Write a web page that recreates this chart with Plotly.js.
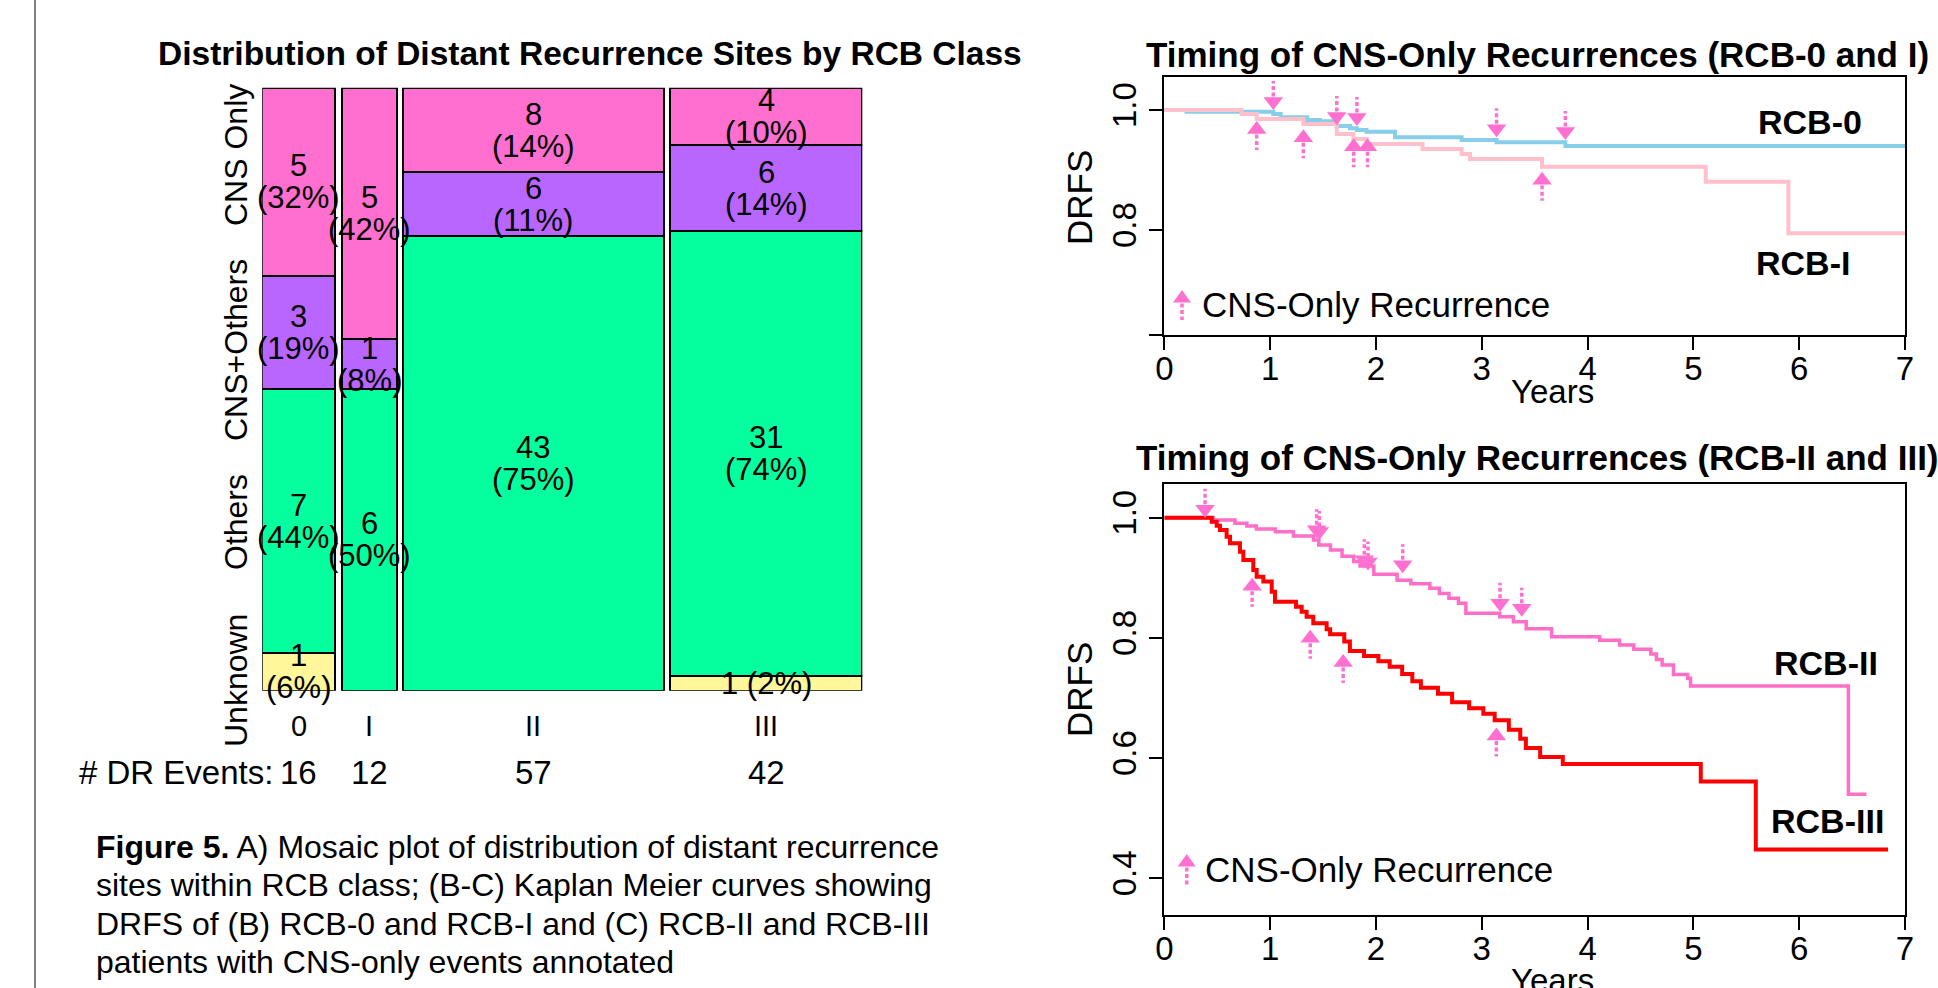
<!DOCTYPE html>
<html><head><meta charset="utf-8">
<script src="https://cdn.plot.ly/plotly-3.0.1.min.js"></script>
<style>html,body{margin:0;padding:0;background:#fff;overflow:hidden}#chart{width:1938px;height:988px}</style>
</head><body><div id="chart"></div><script>
// ---------------- DATA ----------------
const rcbClasses = ['0', 'I', 'II', 'III'];
const siteCategories = ['Unknown', 'Others', 'CNS+Others', 'CNS Only'];
const countUnknown   = [1, 0, 0, 1];
const countOthers    = [7, 6, 43, 31];
const countCnsOthers = [3, 1, 6, 6];
const countCnsOnly   = [5, 5, 8, 4];
const pctUnknown   = [6, 0, 0, 2];
const pctOthers    = [44, 50, 75, 74];
const pctCnsOthers = [19, 8, 11, 14];
const pctCnsOnly   = [32, 42, 14, 10];

// Kaplan-Meier step curves (years, DRFS)
const rcb0Time = [0, 0.21, 1.03, 1.10, 1.35, 1.47, 1.63, 1.755, 1.82, 1.91, 2.18, 2.81, 3.14, 3.79, 7.0];
const rcb0Surv = [1, 0.997, 0.9933, 0.9878, 0.9833, 0.9811, 0.9733, 0.9694, 0.9667, 0.9639, 0.9544, 0.95, 0.9461, 0.94, 0.94];
const rcb1Time = [0, 0.73, 0.873, 1.314, 1.63, 1.787, 1.913, 2.44, 2.81, 2.89, 3.57, 5.117, 5.898, 7.0];
const rcb1Surv = [1, 0.9933, 0.985, 0.9767, 0.96, 0.9517, 0.9433, 0.935, 0.9267, 0.9183, 0.9056, 0.8806, 0.7944, 0.7944];
const rcb2Time = [0, 0.463, 0.668, 0.78, 0.87, 1.05, 1.22, 1.41, 1.46, 1.57, 1.68, 1.79, 1.85, 1.98, 2.2, 2.33, 2.51, 2.6, 2.69, 2.78, 2.85, 3.17, 3.3, 3.42, 3.66, 4.115, 4.303, 4.437, 4.598, 4.651, 4.705, 4.812, 4.946, 4.973, 6.465, 6.636];
const rcb2Surv = [1, 0.996, 0.9907, 0.986, 0.981, 0.9767, 0.9695, 0.963, 0.9545, 0.946, 0.936, 0.927, 0.9197, 0.906, 0.896, 0.89, 0.8825, 0.874, 0.866, 0.8576, 0.841, 0.835, 0.827, 0.815, 0.802, 0.796, 0.788, 0.781, 0.773, 0.764, 0.755, 0.739, 0.733, 0.72, 0.54, 0.54];
const rcb3Time = [0, 0.448, 0.495, 0.526, 0.589, 0.621, 0.715, 0.747, 0.841, 0.873, 0.936, 1.015, 1.046, 1.245, 1.298, 1.345, 1.408, 1.534, 1.567, 1.701, 1.754, 1.888, 2.023, 2.13, 2.248, 2.344, 2.425, 2.586, 2.72, 2.881, 3.015, 3.122, 3.256, 3.364, 3.417, 3.552, 3.766, 5.07, 5.59, 6.84];
const rcb3Surv = [1, 0.9934, 0.9867, 0.9795, 0.9684, 0.9573, 0.9435, 0.9296, 0.913, 0.9019, 0.8936, 0.8769, 0.8603, 0.852, 0.8436, 0.8353, 0.8242, 0.8142, 0.806, 0.794, 0.778, 0.77, 0.761, 0.752, 0.74, 0.728, 0.717, 0.707, 0.693, 0.683, 0.674, 0.663, 0.647, 0.632, 0.617, 0.602, 0.59, 0.561, 0.448, 0.448];

// CNS-only recurrence events (time, DRFS at arrow tip)
const rcb0CnsTime = [1.03, 1.63, 1.82, 3.14, 3.79];
const rcb0CnsSurv = [1.0, 0.975, 0.9733, 0.9544, 0.95];
const rcb1CnsTime = [0.873, 1.314, 1.79, 1.92, 3.57];
const rcb1CnsSurv = [0.9817, 0.9678, 0.9528, 0.9528, 0.897];
const rcb2CnsTime = [0.385, 1.44, 1.465, 1.89, 1.925, 2.253, 3.173, 3.378];
const rcb2CnsSurv = [1.0, 0.9657, 0.963, 0.9158, 0.912, 0.9075, 0.8436, 0.8353];
const rcb3CnsTime = [0.83, 1.379, 1.69, 3.138];
const rcb3CnsSurv = [0.90, 0.8135, 0.773, 0.651];

const kmXTicks = [0, 1, 2, 3, 4, 5, 6, 7];

// ---------------- LAYOUT HELPERS ----------------
const W = 1938, H = 988;
const FONT = 'Liberation Sans, Arial, Helvetica, sans-serif';
const fx = p => p / W;
const fy = p => 1 - p / H;
const MOS = {l: 262.3, r: 862.3, t: 87.7, b: 690.7};
const KM1 = {l: 1164.3, r: 1905, t: 77, b: 335, range: [0.625, 1.055]};
const KM2 = {l: 1164.3, r: 1905, t: 484, b: 915, range: [0.339, 1.056]};
const tileColors = ['#FFF799', '#05FF9F', '#B866FF', '#FF6FCF'];
const arrowColor = '#FF70D0';

// ---------------- MOSAIC ----------------
const catCounts = [countUnknown, countOthers, countCnsOthers, countCnsOnly];
const catPcts = [pctUnknown, pctOthers, pctCnsOthers, pctCnsOnly];
const totals = rcbClasses.map((_, i) => catCounts.reduce((s, a) => s + a[i], 0));
const GAP = 1.4;
const lefts = []; let acc = 0;
totals.forEach(t => { lefts.push(acc); acc += t + GAP; });
const spanX = acc - GAP;
const centers = lefts.map((l, i) => l + totals[i] / 2);

const traces = [];
catCounts.forEach((arr, k) => {
  traces.push({
    type: 'bar', xaxis: 'x', yaxis: 'y',
    x: centers, width: totals, y: arr.map((v, i) => v / totals[i]),
    name: siteCategories[k],
    marker: {color: tileColors[k], line: {color: '#000', width: 2}},
    hoverinfo: 'skip', showlegend: false
  });
});

const annotations = [];
const tf = (size, bold) => ({family: FONT, size: size, color: '#000', weight: bold ? 'bold' : 'normal'});
rcbClasses.forEach((cls, i) => {
  let bottom = 0;
  catCounts.forEach((arr, k) => {
    const frac = arr[i] / totals[i];
    const mid = bottom + frac / 2;
    if (arr[i] > 0) {
      if (frac < 0.04) {
        annotations.push({xref: 'x', yref: 'y', x: centers[i], y: mid, text: arr[i] + ' (' + catPcts[k][i] + '%)', showarrow: false, font: tf(31)});
      } else {
        annotations.push({xref: 'x', yref: 'y', x: centers[i], y: mid, yshift: 16, text: String(arr[i]), showarrow: false, font: tf(31)});
        annotations.push({xref: 'x', yref: 'y', x: centers[i], y: mid, yshift: -16, text: '(' + catPcts[k][i] + '%)', showarrow: false, font: tf(31)});
      }
    }
    bottom += frac;
  });
  annotations.push({xref: 'x', yref: 'paper', x: centers[i], y: fy(726), text: cls, showarrow: false, font: tf(29)});
  annotations.push({xref: 'x', yref: 'paper', x: centers[i], y: fy(772.5), text: String(totals[i]), showarrow: false, font: tf(33)});
});
annotations.push({xref: 'paper', yref: 'paper', x: fx(275), y: fy(772.5), xanchor: 'right', text: '# DR Events:', showarrow: false, font: tf(33)});

// row labels of mosaic (rotated)
const rowLabelY = [681, 522, 350, 155];
siteCategories.forEach((c, k) => {
  annotations.push({xref: 'paper', yref: 'paper', x: fx(236), y: fy(rowLabelY[k]), text: c, textangle: -90, showarrow: false, font: tf(32)});
});
annotations.push({xref: 'paper', yref: 'paper', x: fx(590), y: fy(53.5), text: '<b>Distribution of Distant Recurrence Sites by RCB Class</b>', showarrow: false, font: tf(33.5, true)});

// caption
const captionLines = [
  '<b>Figure 5.</b> A) Mosaic plot of distribution of distant recurrence',
  'sites within RCB class; (B-C) Kaplan Meier curves showing',
  'DRFS of (B) RCB-0 and RCB-I and (C) RCB-II and RCB-III',
  'patients with CNS-only events annotated'
];
captionLines.forEach((t, j) => {
  annotations.push({xref: 'paper', yref: 'paper', x: fx(94), xanchor: 'left', y: fy(847 + j * 38.4), text: t, showarrow: false, font: tf(32)});
});

// ---------------- KM PANELS ----------------
function ppu(box) { return (box.b - box.t) / (box.range[1] - box.range[0]); }
function kmLine(xa, ya, t, s, color, width) {
  return {type: 'scatter', mode: 'lines', xaxis: xa, yaxis: ya, x: t, y: s,
    line: {shape: 'hv', color: color, width: width}, hoverinfo: 'skip', showlegend: false};
}
function arrows(xa, ya, box, times, tips, dir) {
  // dir = +1 : arrow pointing down (drawn above tip); -1 : pointing up (drawn below tip)
  const u = 1 / ppu(box);
  const headR = 8.5, headH = 12.5, total = 29;
  const sx = [], sy = [];
  times.forEach((t, i) => {
    sx.push(t, t, null);
    sy.push(tips[i] + dir * (headH + 1) * u, tips[i] + dir * total * u, null);
  });
  return [
    {type: 'scatter', mode: 'lines', xaxis: xa, yaxis: ya, x: sx, y: sy,
      line: {color: arrowColor, width: 3.5, dash: '4px,2.5px'}, hoverinfo: 'skip', showlegend: false},
    {type: 'scatter', mode: 'markers', xaxis: xa, yaxis: ya, x: times, y: tips.map(v => v + dir * headR * u),
      marker: {symbol: dir > 0 ? 'triangle-down' : 'triangle-up', size: 17, color: arrowColor, line: {width: 0}},
      hoverinfo: 'skip', showlegend: false}
  ];
}
traces.push(kmLine('x2', 'y2', rcb0Time, rcb0Surv, '#87CEEB', 4));
traces.push(kmLine('x2', 'y2', rcb1Time, rcb1Surv, '#FFC0CB', 4));
traces.push(...arrows('x2', 'y2', KM1, rcb0CnsTime, rcb0CnsSurv, 1));
traces.push(...arrows('x2', 'y2', KM1, rcb1CnsTime, rcb1CnsSurv, -1));
traces.push(kmLine('x3', 'y3', rcb2Time, rcb2Surv, '#FF6EC7', 3.5));
traces.push(kmLine('x3', 'y3', rcb3Time, rcb3Surv, '#FF0000', 4));
traces.push(...arrows('x3', 'y3', KM2, rcb2CnsTime, rcb2CnsSurv, 1));
traces.push(...arrows('x3', 'y3', KM2, rcb3CnsTime, rcb3CnsSurv, -1));

function kmX(box, anchor) {
  return {domain: [fx(box.l), fx(box.r)], anchor: anchor, range: [0, 7], tickvals: kmXTicks,
    ticktext: kmXTicks.map(String), ticks: 'outside', ticklen: 13, tickwidth: 2, tickcolor: '#000',
    showline: true, mirror: true, linecolor: '#000', linewidth: 2, showgrid: false, zeroline: false,
    ticklabelstandoff: -10,
    tickfont: {family: FONT, size: 33, color: '#000'}, fixedrange: true};
}
function kmY(box, anchor, vals, labels) {
  return {domain: [fy(box.b), fy(box.t)], anchor: anchor, range: box.range, tickvals: vals,
    ticktext: labels, tickangle: -90, ticks: 'outside', ticklen: 13, tickwidth: 2, tickcolor: '#000',
    showline: true, mirror: true, linecolor: '#000', linewidth: 2, showgrid: false, zeroline: false,
    tickfont: {family: FONT, size: 33, color: '#000'}, fixedrange: true};
}

// KM texts
const kmTexts = [
  {x: 1537, y: 54, t: '<b>Timing of CNS-Only Recurrences (RCB-0 and I)</b>', s: 35, b: true},
  {x: 1537, y: 457, t: '<b>Timing of CNS-Only Recurrences (RCB-II and III)</b>', s: 35, b: true},
  {x: 1810, y: 122.5, t: '<b>RCB-0</b>', s: 34, b: true},
  {x: 1803, y: 263, t: '<b>RCB-I</b>', s: 34, b: true},
  {x: 1826, y: 663, t: '<b>RCB-II</b>', s: 34, b: true},
  {x: 1827, y: 821, t: '<b>RCB-III</b>', s: 34, b: true},
  {x: 1552, y: 392, t: 'Years', s: 33},
  {x: 1552, y: 980, t: 'Years', s: 33}
];
kmTexts.forEach(o => annotations.push({xref: 'paper', yref: 'paper', x: fx(o.x), y: fy(o.y), text: o.t, showarrow: false, font: tf(o.s, o.b)}));
[198, 690].forEach(y => annotations.push({xref: 'paper', yref: 'paper', x: fx(1079), y: fy(y), text: 'DRFS', textangle: -90, showarrow: false, font: tf(35)}));
[[1200, 304], [1203, 869]].forEach(p => annotations.push({xref: 'paper', yref: 'paper', x: fx(p[0]), xanchor: 'left', y: fy(p[1]), text: 'CNS-Only Recurrence', showarrow: false, font: tf(35)}));

annotations.forEach(a => { if (!a.xanchor) a.xanchor = 'center'; if (!a.yanchor) a.yanchor = 'middle'; });

// legend arrow glyphs + frame line as shapes
const shapes = [];
function legendArrow(x, tip, bottom) {
  shapes.push({type: 'path', xref: 'paper', yref: 'paper',
    path: 'M' + fx(x - 9) + ',' + fy(tip + 12.5) + ' L' + fx(x + 9) + ',' + fy(tip + 12.5) + ' L' + fx(x) + ',' + fy(tip) + ' Z',
    fillcolor: arrowColor, line: {width: 0}});
  shapes.push({type: 'line', xref: 'paper', yref: 'paper', x0: fx(x), x1: fx(x), y0: fy(tip + 13.5), y1: fy(bottom),
    line: {color: arrowColor, width: 3.5, dash: '4px,2.5px'}});
}
legendArrow(1182, 290, 320);
legendArrow(1186.7, 854, 885);
shapes.push({type: 'line', xref: 'paper', yref: 'paper', x0: fx(35), x1: fx(35), y0: 0, y1: 1, line: {color: '#808080', width: 2}});

const layout = {
  width: W, height: H, margin: {l: 0, r: 0, t: 0, b: 0, pad: 0},
  paper_bgcolor: '#fff', plot_bgcolor: 'rgba(0,0,0,0)',
  barmode: 'stack', bargap: 0, showlegend: false,
  font: {family: FONT, color: '#000'},
  xaxis: {domain: [fx(MOS.l), fx(MOS.r)], anchor: 'y', range: [0, spanX], visible: false, fixedrange: true},
  yaxis: {domain: [fy(MOS.b), fy(MOS.t)], anchor: 'x', range: [0, 1], visible: false, fixedrange: true},
  xaxis2: kmX(KM1, 'y2'), yaxis2: kmY(KM1, 'x2', [KM1.range[0] + 0.0005, 0.8, 1.0], ['', '0.8', '1.0']),
  xaxis3: kmX(KM2, 'y3'), yaxis3: kmY(KM2, 'x3', [0.4, 0.6, 0.8, 1.0], ['0.4', '0.6', '0.8', '1.0']),
  annotations: annotations, shapes: shapes
};
Plotly.newPlot('chart', traces, layout, {staticPlot: true, displayModeBar: false});
</script></body></html>
